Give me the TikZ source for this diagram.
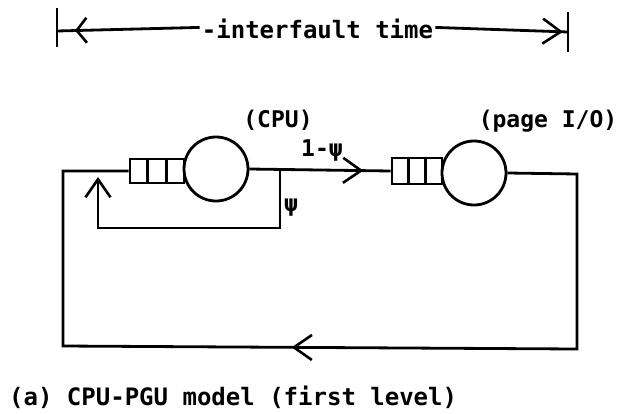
\documentclass[tikz,border=0pt]{standalone}
\usepackage{fontspec}
\setmainfont{DejaVu Sans Mono}
\usetikzlibrary{arrows.meta,decorations.markings,calc}
\tikzset{
  mybarb/.tip={Straight Barb[length=18pt,width=25pt,line width=2.6pt]},
  shortbarb/.tip={Straight Barb[length=10pt,width=25pt,line width=2.6pt]},
  ln/.style={line width=2.8pt},
  midarrow/.style={postaction={decorate},decoration={markings,mark=at position #1 with {\arrow{mybarb}}}},
  midshort/.style={postaction={decorate},decoration={markings,mark=at position #1 with {\arrow{shortbarb}}}},
  srv/.style={circle, draw, line width=2.8pt, minimum size=64pt, inner sep=0pt},
  queuebox/.style={rectangle, draw, line width=2.8pt, inner sep=0pt},
  lbl/.style={font=\fontsize{23}{27}\selectfont\bfseries, inner sep=0pt},
  biglbl/.style={font=\fontsize{24}{28}\selectfont\bfseries, inner sep=0pt},
}
\begin{document}
\begin{tikzpicture}[x=1pt,y=-1pt]
\useasboundingbox (0,0) rectangle (624,413);
% dimension line
\coordinate (tl1) at (57,8); \coordinate (tl2) at (57,47);
\coordinate (tr1) at (568,12); \coordinate (tr2) at (568,52);
\draw[ln] (tl1) -- (tl2);
\draw[ln] (tr1) -- (tr2);
\node[biglbl, anchor=base] (ift) at (317.5,38) {-interfault time};
\coordinate (dl) at (57,31); \coordinate (dr) at (568,32);
\draw[ln, midshort=-18pt] ($(ift.west)+(-2,-1)$) -- (dl);
\draw[ln, midarrow=-5pt] ($(ift.east)+(2,-1)$) -- (dr);
% servers and queues
\node[srv] (c1) at (216,169) {};
\node[queuebox, minimum width=54pt, minimum height=24pt] (q1) at (157,171) {};
\draw[ln] ($(q1.north west)!1/3!(q1.north east)$) -- ($(q1.south west)!1/3!(q1.south east)$);
\draw[ln] ($(q1.north west)!2/3!(q1.north east)$) -- ($(q1.south west)!2/3!(q1.south east)$);
\node[srv] (c2) at (474,173) {};
\node[queuebox, minimum width=50pt, minimum height=26pt] (q2) at (417,171) {};
\draw[ln] ($(q2.north west)!1/3!(q2.north east)$) -- ($(q2.south west)!1/3!(q2.south east)$);
\draw[ln] ($(q2.north west)!2/3!(q2.north east)$) -- ($(q2.south west)!2/3!(q2.south east)$);
% connectors
\draw[ln, midarrow=114pt] (c1.east) -- (q2.west);
\coordinate (fb0) at (280,170);
\coordinate (fb1) at (280,228);
\coordinate (fb2) at (98,228);
\coordinate (fb3) at (98,177);
\draw[ln, -{mybarb}] (fb0) -- (fb1) -- (fb2) -- (fb3);
\coordinate (rt) at (577,174);
\coordinate (rb) at (577,349);
\coordinate (lb) at (63,346);
\coordinate (lt) at (63,171);
\draw[ln, midarrow=530pt] (c2.east) -- (rt) -- (rb) -- (lb) -- (lt) -- (q1.west);
% labels
\node[lbl, anchor=base] (cpu) at (278,127) {(CPU)};
\node[lbl, anchor=base] (pio) at (548,127) {(page I/O)};
\node[lbl, anchor=base west] (onem) at (301,156) {1-ψ};
\node[lbl] (psi) at (291,208) {ψ};
\node[biglbl, anchor=base west] (cap) at (9,405) {(a) CPU-PGU model (first level)};
\end{tikzpicture}
\end{document}
